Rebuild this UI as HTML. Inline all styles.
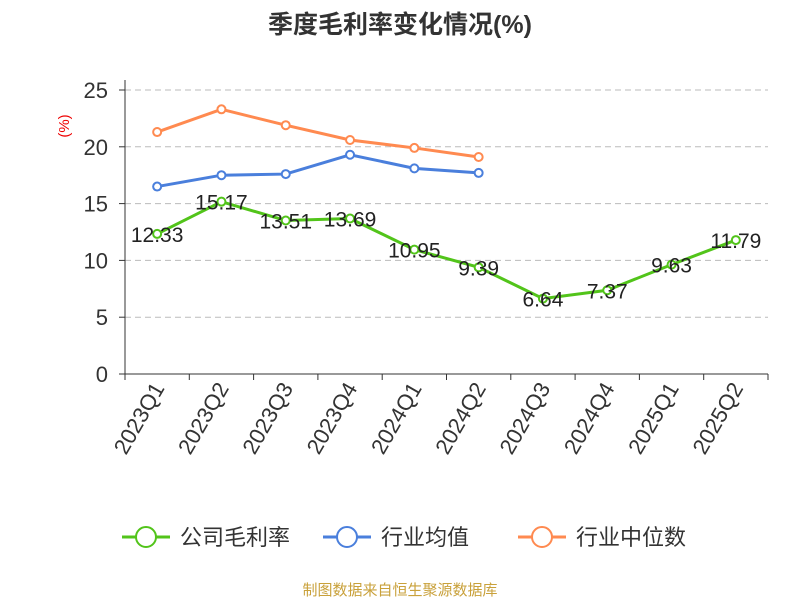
<!DOCTYPE html>
<html><head><meta charset="utf-8">
<style>
body{margin:0;background:#fff;}
svg text{font-family:"Liberation Sans","Noto Sans CJK SC",sans-serif;}
</style></head>
<body>
<svg id="chart" width="800" height="600" xmlns="http://www.w3.org/2000/svg">
<text x="400" y="33" text-anchor="middle" font-size="25" font-weight="bold" fill="#333">季度毛利率变化情况(%)</text>
<text transform="translate(69,126) rotate(-90)" text-anchor="middle" font-size="15" fill="#e00">(%)</text>
<g id="grid"></g><g id="axes"></g><g id="series"></g>
<g id="legend"></g>
<text x="400" y="595" text-anchor="middle" font-size="15" fill="#c9a13b">制图数据来自恒生聚源数据库</text>
</svg>
<script>
const categories=["2023Q1","2023Q2","2023Q3","2023Q4","2024Q1","2024Q2","2024Q3","2024Q4","2025Q1","2025Q2"];
const companyValues=[12.33,15.17,13.51,13.69,10.95,9.39,6.64,7.37,9.63,11.79];
const industryAvg=[16.5,17.5,17.6,19.3,18.1,17.7];
const industryMedian=[21.3,23.3,21.9,20.6,19.9,19.1];
const yTicks=[0,5,10,15,20,25];
const seriesNames=["公司毛利率","行业均值","行业中位数"];
const colors=["#52c41a","#4a7fdc","#ff8a50"];
const NS="http://www.w3.org/2000/svg";
const X0=125,X1=768,Y0=374,Y1=90,YMAX=25;
const bw=(X1-X0)/categories.length;
const xs=i=>X0+bw*(i+0.5);
const ys=v=>Y0-(v/YMAX)*(Y0-Y1);
function mk(tag,attrs,parent){const e=document.createElementNS(NS,tag);for(const k in attrs)e.setAttribute(k,attrs[k]);parent.appendChild(e);return e;}
const grid=document.getElementById('grid'),axes=document.getElementById('axes'),ser=document.getElementById('series'),leg=document.getElementById('legend');
yTicks.forEach(t=>{
 if(t>0){const l=mk('line',{x1:X0,x2:X1,y1:ys(t),y2:ys(t),stroke:'#bbb','stroke-dasharray':'6,4'},grid);
 }
 const tk=mk('line',{x1:X0-6,x2:X0,y1:ys(t),y2:ys(t),stroke:'#333'},axes);
 
 const tx=mk('text',{x:X0-17,y:ys(t)+8,'text-anchor':'end','font-size':22,fill:'#333'},axes);tx.textContent=t;
 
});
let a=mk('line',{x1:X0,x2:X0,y1:Y1-10,y2:Y0,stroke:'#333'},axes);
a=mk('line',{x1:X0,x2:X1,y1:Y0,y2:Y0,stroke:'#333'},axes);
for(let i=0;i<=categories.length;i++){const t=mk('line',{x1:X0+bw*i,x2:X0+bw*i,y1:Y0,y2:Y0+6,stroke:'#333'},axes);}
categories.forEach((c,i)=>{const x=xs(i)+8,y=Y0+14;
 const t=mk('text',{x:x,y:y,'text-anchor':'end','font-size':22,fill:'#333',transform:`rotate(-60 ${x} ${y})`},axes);t.textContent=c;
 });
function line(vals,color,name,labels){
 const g=mk('g',{},ser);
 const p=mk('polyline',{points:vals.map((v,i)=>xs(i)+','+ys(v)).join(' '),fill:'none',stroke:color,'stroke-width':3},g);
 
 vals.forEach((v,i)=>{const c=mk('circle',{cx:xs(i),cy:ys(v),r:4,fill:'#fff',stroke:color,'stroke-width':2},g);
  
  if(labels){const t=mk('text',{x:xs(i),y:ys(v)+8,'text-anchor':'middle','font-size':21,fill:'#222'},g);t.textContent=v.toFixed(2);
  }});
}
line(industryMedian,colors[2],'industry-median-series',false);
line(industryAvg,colors[1],'industry-average-series',false);
line(companyValues,colors[0],'company-margin-series',true);
const lx=[122,323,518];
seriesNames.forEach((n,i)=>{const g=mk('g',{},leg);
 mk('line',{x1:lx[i],x2:lx[i]+48,y1:537,y2:537,stroke:colors[i],'stroke-width':3},g);
 mk('circle',{cx:lx[i]+24,cy:537,r:10,fill:'#fff',stroke:colors[i],'stroke-width':2},g);
 const t=mk('text',{x:lx[i]+58,y:545,'font-size':22,fill:'#333'},g);t.textContent=n;});
</script>
</body></html>
